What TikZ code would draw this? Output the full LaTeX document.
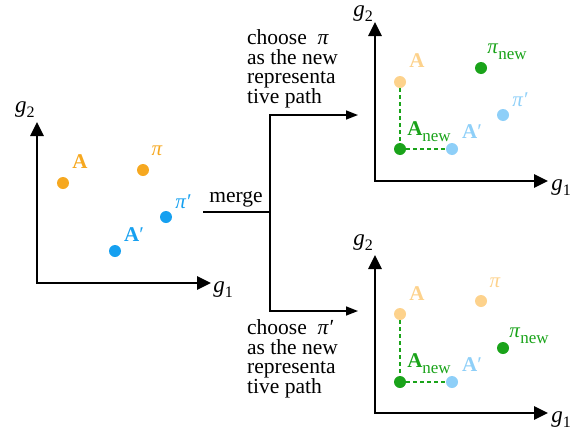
\documentclass[tikz,border=0pt]{standalone}
\usepackage{fontspec}
\setmainfont{Liberation Serif}
\usetikzlibrary{arrows.meta}

\definecolor{cOrange}{RGB}{246,168,32}
\definecolor{cBlue}{RGB}{22,160,240}
\definecolor{cGreen}{RGB}{26,163,26}
\definecolor{cOrangeLt}{RGB}{253,210,140}
\definecolor{cBlueLt}{RGB}{142,207,248}

% subscript "new" set a little below the baseline
\newcommand{\subnew}{\raisebox{-6pt}{\fontsize{17}{17}\selectfont new}}
% axis name g with a numeric index
\newcommand{\gax}[1]{\textit{g}\raisebox{-5pt}{\fontsize{16}{16}\selectfont #1}}

\tikzset{
  axis/.style={line width=2.6pt, line join=miter,
    {Triangle[length=14pt,width=13pt]}-{Triangle[length=14pt,width=13pt]}},
  flow/.style={line width=1.6pt, -{Triangle[length=12pt,width=9pt]}},
  flowline/.style={line width=1.6pt},
  dot/.style={circle, fill=#1, inner sep=0pt, minimum size=12pt},
  lbl/.style={text=#1, inner sep=0pt, font=\fontsize{21}{21}\selectfont},
  axlbl/.style={inner sep=0pt, font=\fontsize{23}{23}\selectfont},
  txt/.style={inner sep=0pt, align=left, anchor=north west,
    font=\fontsize{21.5}{19.5}\selectfont},
  guide/.style={cGreen, line width=1.5pt, dash pattern=on 4pt off 3pt},
}

\begin{document}
\begin{tikzpicture}[x=1pt,y=-1pt]
\useasboundingbox (0,0) rectangle (584,434);

% ---------- left plot: before merging ----------
\coordinate (L-o) at (37,283);
\coordinate (L-y) at (37,122);
\coordinate (L-x) at (211,283);
\draw[axis] (L-y) -- (L-o) -- (L-x);
\node[axlbl] (L-g2) at (25,110) {\gax{2}};
\node[axlbl] (L-g1) at (223,290) {\gax{1}};

\node[dot=cOrange] (L-A)  at (63,183) {};
\node[dot=cOrange] (L-pi) at (143,170) {};
\node[dot=cBlue]   (L-pp) at (166,217) {};
\node[dot=cBlue]   (L-Ap) at (115,251) {};
\node[lbl=cOrange] (L-A-l)  at (80,162) {\textbf{A}};
\node[lbl=cOrange] (L-pi-l) at (157,151) {\textit{π}};
\node[lbl=cBlue]   (L-pp-l) at (183,202) {\textit{π′}};
\node[lbl=cBlue]   (L-Ap-l) at (134,235) {\textbf{A}′};

% ---------- merge branches ----------
\coordinate (M-in)  at (203,212);
\coordinate (M-sp)  at (270,212);
\coordinate (M-top) at (358,115);
\coordinate (M-bot) at (358,311);
\draw[flowline] (M-in) -- (M-sp);
\draw[flow] (M-sp) |- (M-top);
\draw[flow] (M-sp) |- (M-bot);
\node[inner sep=0pt, font=\fontsize{21.5}{21.5}\selectfont] (M-lbl) at (236,199) {merge};

\node[txt] (T-txt) at (247,29.5) {choose~~\textit{π}\\as the new\\representa\\tive path};
\node[txt] (B-txt) at (247,319.5) {choose~~\textit{π′}\\as the new\\representa\\tive path};

% ---------- top right: choose pi ----------
\coordinate (T-o) at (375,181);
\coordinate (T-y) at (375,22);
\coordinate (T-x) at (548,181);
\draw[axis] (T-y) -- (T-o) -- (T-x);
\node[axlbl] (T-g2) at (363,14) {\gax{2}};
\node[axlbl] (T-g1) at (561,188) {\gax{1}};

\node[dot=cOrangeLt] (T-A)  at (400,82) {};
\node[dot=cGreen]    (T-pn) at (481,68) {};
\node[dot=cBlueLt]   (T-pp) at (503,115) {};
\node[dot=cBlueLt]   (T-Ap) at (452,149) {};
\node[dot=cGreen]    (T-An) at (400,149) {};
\draw[guide] (T-A) -- (T-An) -- (T-Ap);
\node[lbl=cOrangeLt] (T-A-l)  at (417,61) {\textbf{A}};
\node[lbl=cGreen]    (T-pn-l) at (507,52) {\textit{π}\subnew};
\node[lbl=cBlueLt]   (T-pp-l) at (520,100) {\textit{π′}};
\node[lbl=cBlueLt]   (T-Ap-l) at (472,132) {\textbf{A}′};
\node[lbl=cGreen]    (T-An-l) at (429,132) {\textbf{A}\subnew};

% ---------- bottom right: choose pi' ----------
\coordinate (B-o) at (375,413);
\coordinate (B-y) at (375,255);
\coordinate (B-x) at (548,413);
\draw[axis] (B-y) -- (B-o) -- (B-x);
\node[axlbl] (B-g2) at (363,243) {\gax{2}};
\node[axlbl] (B-g1) at (561,420) {\gax{1}};

\node[dot=cOrangeLt] (B-A)  at (400,314) {};
\node[dot=cOrangeLt] (B-pi) at (481,301) {};
\node[dot=cGreen]    (B-pn) at (503,348) {};
\node[dot=cBlueLt]   (B-Ap) at (452,382) {};
\node[dot=cGreen]    (B-An) at (400,382) {};
\draw[guide] (B-A) -- (B-An) -- (B-Ap);
\node[lbl=cOrangeLt] (B-A-l)  at (417,294) {\textbf{A}};
\node[lbl=cOrangeLt] (B-pi-l) at (495,283) {\textit{π}};
\node[lbl=cGreen]    (B-pn-l) at (529,336) {\textit{π}\subnew};
\node[lbl=cBlueLt]   (B-Ap-l) at (472,365) {\textbf{A}′};
\node[lbl=cGreen]    (B-An-l) at (429,364) {\textbf{A}\subnew};
\end{tikzpicture}
\end{document}
